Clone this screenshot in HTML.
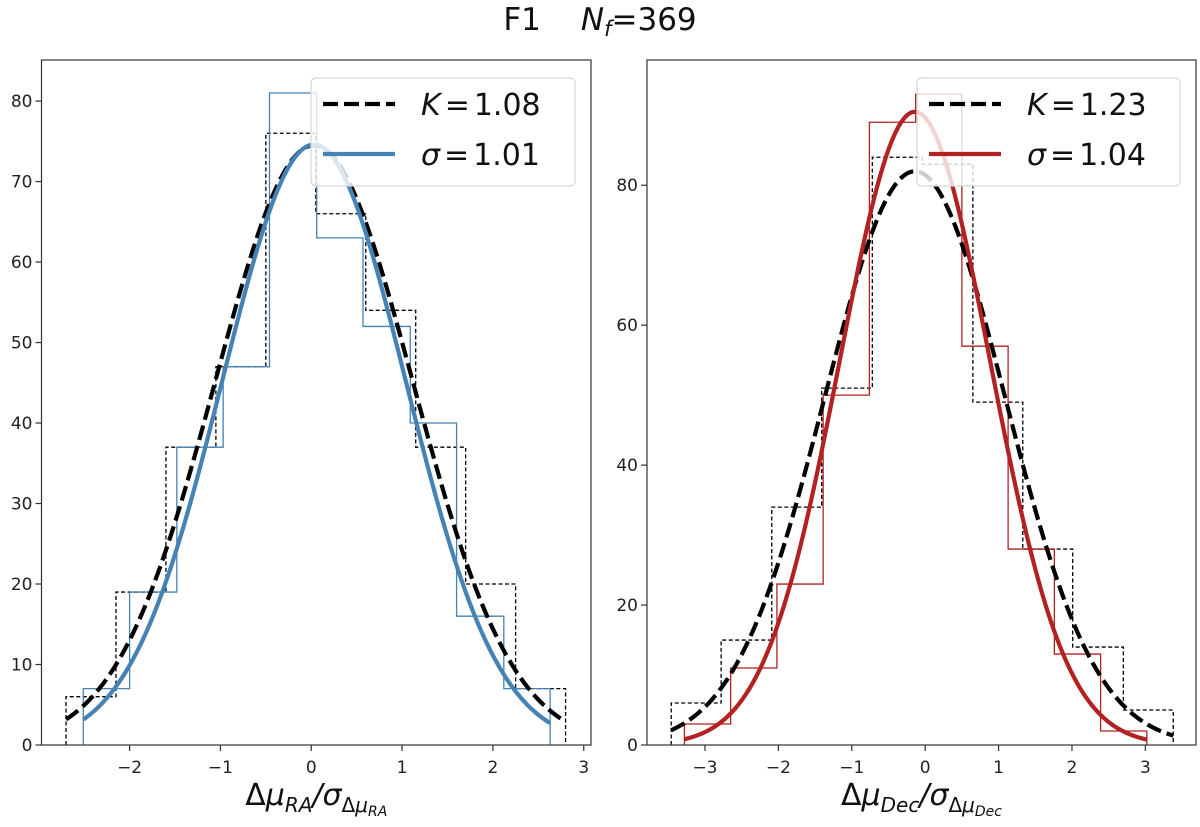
<!DOCTYPE html>
<html><head><meta charset="utf-8"><style>
body{margin:0;background:#fff;}
svg{display:block;font-family:"DejaVu Sans","Liberation Sans",sans-serif;}
</style></head><body>
<svg id="fig" width="1200" height="827" viewBox="0 0 1200 827">
<text x="600" y="30" text-anchor="middle" font-size="31" fill="#111">F1<tspan dx="40" font-style="italic">N</tspan><tspan font-style="italic" font-size="21" dy="6">f</tspan><tspan dy="-6">=369</tspan></text>
<g id="p1"></g>
<g id="p2"></g>
</svg>
<script>
// ----- Left panel data (RA) -----
const raDashEdges = [-2.70,-2.15,-1.60,-1.05,-0.50,0.05,0.60,1.15,1.70,2.25,2.80];
const raDashCounts = [6,19,37,47,76,66,54,37,20,7];
const raSolidEdges = [-2.51,-2.00,-1.48,-0.97,-0.46,0.06,0.57,1.09,1.60,2.12,2.63];
const raSolidCounts = [7,19,37,47,81,63,52,40,16,7];
const raDashFit = [74.5, 0.03, 1.087]; // amplitude, mean, sigma
const raSolidFit = [74.6, 0.03, 1.01];
const raXTicks = [-2,-1,0,1,2,3];
const raYTicks = [0,10,20,30,40,50,60,70,80];
// ----- Right panel data (Dec) -----
const decDashEdges = [-3.46,-2.78,-2.09,-1.41,-0.72,-0.04,0.65,1.33,2.01,2.70,3.38];
const decDashCounts = [6,15,34,51,84,83,49,28,14,5];
const decSolidEdges = [-3.28,-2.65,-2.02,-1.39,-0.76,-0.13,0.50,1.13,1.76,2.39,3.02];
const decSolidCounts = [3,11,23,50,89,93,57,28,13,2];
const decDashFit = [82, -0.14, 1.228];
const decSolidFit = [90.5, -0.14, 1.025];
const decXTicks = [-3,-2,-1,0,1,2,3];
const decYTicks = [0,20,40,60,80];

const NS="http://www.w3.org/2000/svg";
function mk(parent,tag,attrs){const e=document.createElementNS(NS,tag);for(const k in attrs)e.setAttribute(k,attrs[k]);parent.appendChild(e);return e;}

function panel(g,cfg){
  const {x0,x1,y0,y1,xmin,xmax,ymax}=cfg;
  const sx=v=>x0+(v-xmin)/(xmax-xmin)*(x1-x0);
  const sy=v=>y1-v/ymax*(y1-y0);
  function hist(edges,counts,color,dash,name){
    let d=`M${sx(edges[0])},${sy(0)}`;
    for(let i=0;i<counts.length;i++){d+=` L${sx(edges[i])},${sy(counts[i])} L${sx(edges[i+1])},${sy(counts[i])}`;}
    d+=` L${sx(edges[edges.length-1])},${sy(0)}`;
    const p=mk(g,'path',{d:d,fill:'none',stroke:color,'stroke-width':1.3});
    if(dash)p.setAttribute('stroke-dasharray','4,2.5');
    
    
  }
  function curve(fit,lo,hi,color,dash,name){
    const [A,m,s]=fit;let d='';
    for(let i=0;i<=200;i++){const v=lo+(hi-lo)*i/200;const y=A*Math.exp(-((v-m)**2)/(2*s*s));d+=(i?' L':'M')+sx(v).toFixed(2)+','+sy(y).toFixed(2);}
    const p=mk(g,'path',{d:d,fill:'none',stroke:color,'stroke-width':4.2});
    if(dash)p.setAttribute('stroke-dasharray','15,6');
    
    
  }
  hist(cfg.dashEdges,cfg.dashCounts,'#000',true,'dashed-histogram');
  hist(cfg.solidEdges,cfg.solidCounts,cfg.color,false,'solid-histogram');
  curve(cfg.dashFit,cfg.dashEdges[0],cfg.dashEdges[cfg.dashEdges.length-1],'#000',true,'k-fit-curve');
  curve(cfg.solidFit,cfg.solidEdges[0],cfg.solidEdges[cfg.solidEdges.length-1],cfg.color,false,'sigma-fit-curve');
  const fr=mk(g,'rect',{x:x0,y:y0,width:x1-x0,height:y1-y0,fill:'none',stroke:'#333','stroke-width':1.2});
  
  
  cfg.xTicks.forEach(t=>{
    mk(g,'line',{x1:sx(t),x2:sx(t),y1:y1,y2:y1+6,stroke:'#333','stroke-width':1.2});
    const tx=mk(g,'text',{x:sx(t),y:y1+28,'text-anchor':'middle','font-size':17,fill:'#222'});
    tx.textContent=t<0?'\u2212'+(-t):String(t);
    
    
  });
  cfg.yTicks.forEach(t=>{
    mk(g,'line',{x1:x0-6,x2:x0,y1:sy(t),y2:sy(t),stroke:'#333','stroke-width':1.2});
    const tx=mk(g,'text',{x:x0-9,y:sy(t)+6,'text-anchor':'end','font-size':17,fill:'#222'});
    tx.textContent=String(t);
    
    
  });
  const L=cfg.leg;
  const lb=mk(g,'rect',{x:L.x,y:78,width:L.w,height:108,rx:5,fill:'rgba(255,255,255,0.8)',stroke:'#d6d6d6','stroke-width':1.2});
  
  
  mk(g,'line',{x1:L.x+12,x2:L.x+84,y1:104,y2:104,stroke:'#000','stroke-width':4.2,'stroke-dasharray':'15,6'});
  mk(g,'line',{x1:L.x+12,x2:L.x+84,y1:154,y2:154,stroke:cfg.color,'stroke-width':4.2});
  const t1=mk(g,'text',{x:L.x+110,y:115,'font-size':30,fill:'#111'});
  t1.innerHTML='<tspan font-style="italic">K</tspan><tspan dx="4">=</tspan><tspan dx="4">'+cfg.kLabel+'</tspan>';
  
  
  const t2=mk(g,'text',{x:L.x+110,y:165,'font-size':30,fill:'#111'});
  t2.innerHTML='<tspan font-style="italic">σ</tspan><tspan dx="4">=</tspan><tspan dx="4">'+cfg.sLabel+'</tspan>';
  
  
  const xl=mk(g,'text',{x:(x0+x1)/2,y:805,'text-anchor':'middle','font-size':30,fill:'#111'});
  xl.innerHTML='Δ<tspan font-style="italic">μ</tspan><tspan font-style="italic" font-size="20" dy="7">'+cfg.sub+'</tspan><tspan dy="-7" font-style="italic">/σ</tspan><tspan font-size="20" dy="7">Δ</tspan><tspan font-style="italic" font-size="20">μ</tspan><tspan font-style="italic" font-size="14" dy="4">'+cfg.sub+'</tspan>';
  
  
}
panel(document.getElementById('p1'),{x0:41.5,x1:591,y0:60,y1:745,xmin:-2.97,xmax:3.08,ymax:85.1,
  dashEdges:raDashEdges,dashCounts:raDashCounts,solidEdges:raSolidEdges,solidCounts:raSolidCounts,
  dashFit:raDashFit,solidFit:raSolidFit,xTicks:raXTicks,yTicks:raYTicks,color:'#4682b4',
  leg:{x:311,w:264},kLabel:'1.08',sLabel:'1.01',sub:'RA'});
panel(document.getElementById('p2'),{x0:647,x1:1196,y0:60,y1:745,xmin:-3.79,xmax:3.69,ymax:97.9,
  dashEdges:decDashEdges,dashCounts:decDashCounts,solidEdges:decSolidEdges,solidCounts:decSolidCounts,
  dashFit:decDashFit,solidFit:decSolidFit,xTicks:decXTicks,yTicks:decYTicks,color:'#b22222',
  leg:{x:917,w:263},kLabel:'1.23',sLabel:'1.04',sub:'Dec'});
</script>
</body></html>
